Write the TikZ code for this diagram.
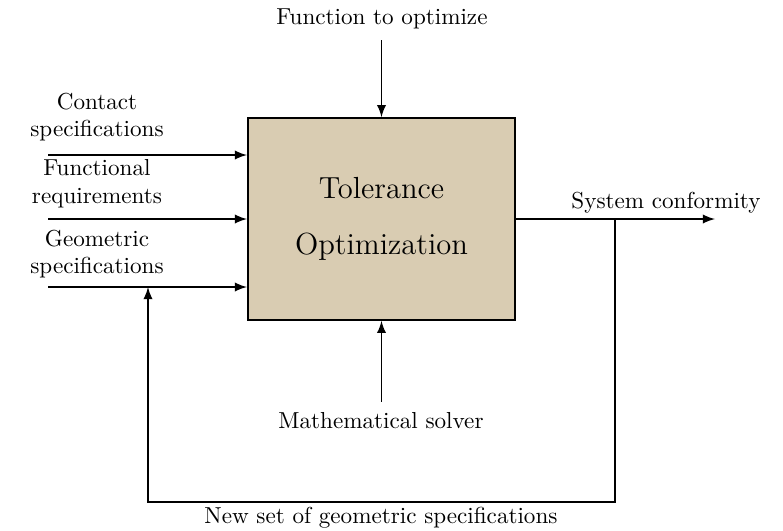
\documentclass[tikz,border=0pt]{standalone}
\usetikzlibrary{arrows,positioning}

\definecolor{boxtan}{RGB}{217,204,178}

\begin{document}
\begin{tikzpicture}[x=0.0152cm, y=-0.0152cm, >=latex, thick,
    block/.style={draw, fill=boxtan, minimum width=4.06cm, minimum height=3.07cm,
      align=center, font=\fontsize{13.2}{16}\selectfont},
    lbl/.style={align=center, inner sep=1pt}]
    \useasboundingbox (0,0) rectangle (783,531);
    \node[block] (T) at (381.5,219) {Tolerance\\[8pt]Optimization};
    \node[lbl] (F) at (382,19) {Function to optimize};
    \node[lbl] (M) at (381,421) {Mathematical solver};
    \node[lbl] (C) at (97,117) {Contact\\specifications};
    \node[lbl] (R) at (97,184) {Functional\\requirements};
    \node[lbl] (G) at (97,254) {Geometric\\specifications};
    \node[lbl] (S) at (666,203) {System conformity};
    \node[lbl] (N) at (381,518) {New set of geometric specifications};
    \coordinate (c1) at (48,155);
    \coordinate (c2) at (48,219);
    \coordinate (c3) at (48,287);
    \coordinate (out) at (715,219);
    \coordinate (fb) at (615,219);
    \coordinate (fb2) at (148,502);
    \draw[->] (T.north |- F.south) ++(0,8) -- (T.north);
    \draw[->] (T.south |- M.north) ++(0,-8) -- (T.south);
    \draw[->] (c1) -- (c1 -| T.west);
    \draw[->] (c2) -- (c2 -| T.west);
    \draw[->] (c3) -- (c3 -| T.west);
    \draw[->] (T.east) -- (out);
    \draw[->] (fb) |- (fb2) -- (fb2 |- c3);
\end{tikzpicture}
\end{document}
